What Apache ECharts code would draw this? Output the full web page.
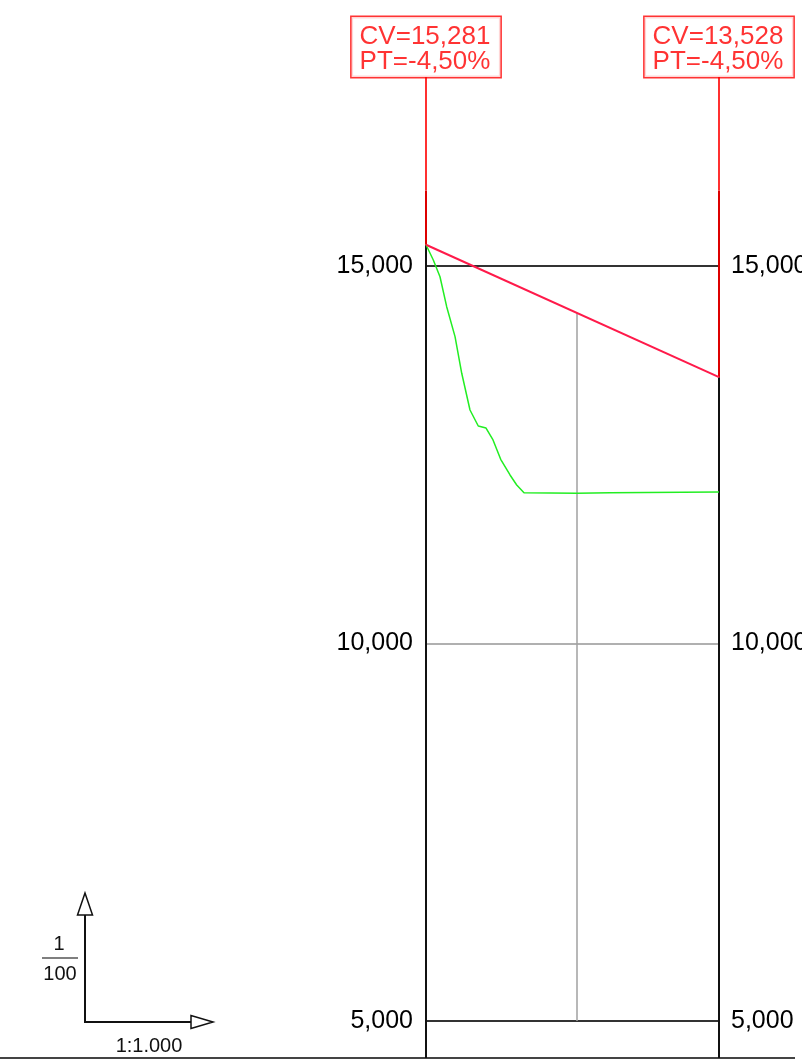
<!DOCTYPE html>
<html>
<head>
<meta charset="utf-8">
<script src="https://cdn.jsdelivr.net/npm/echarts@6/dist/echarts.min.js"></script>
<style>
html,body{margin:0;padding:0;background:#fff;}
#chart{width:802px;height:1060px;}
</style>
</head>
<body>
<div id="chart"></div>
<script>
// ---- data ----
const pviX = [0, 38.956];               // chainage of vertical points (m)
const pviZ = [15.281, 13.528];          // design elevations (CV)
const pviGrade = [-4.50, -4.50];        // grades (PT, %)
const stationX = [20];                  // intermediate station
const stationZ = [14.381];              // design elevation at the station
const groundX = [0, 0.97, 1.86, 2.75, 3.86, 4.75, 5.85, 6.95, 7.98, 8.87, 9.93, 11.17, 12.06, 13.03, 20.04, 24.46, 38.956];
const groundZ = [15.281, 15.079, 14.858, 14.461, 14.064, 13.579, 13.093, 12.881, 12.854, 12.705, 12.440, 12.232, 12.099, 11.997, 11.989, 11.997, 12.007];
const yTicks = [5, 10, 15];
const baseZ = 4.51;      // bottom reference line level
const redSplitZ = 16.0;  // change of red tone on vertical leader
const labelZ = 17.503;   // level of the label boxes

const fmt = (v, d) => v.toFixed(d).replace('.', ',');
const FONT = "'Liberation Sans', Arial, sans-serif";

const chart = echarts.init(document.getElementById('chart'), null, {renderer: 'canvas'});

const vertLines = [];
pviX.forEach((x, i) => {
  vertLines.push({coords: [[x, baseZ], [x, pviZ[i]]], lineStyle: {color: '#111', width: 2, opacity: 1}});
  vertLines.push({coords: [[x, pviZ[i]], [x, redSplitZ]], lineStyle: {color: '#dd0000', width: 2, opacity: 1}});
  vertLines.push({coords: [[x, redSplitZ], [x, labelZ]], lineStyle: {color: '#ff3030', width: 2, opacity: 1}});
});
stationX.forEach((x, i) => {
  vertLines.push({coords: [[x, yTicks[0]], [x, stationZ[i]]], lineStyle: {color: '#a0a0a0', width: 1.5, opacity: 1}});
});

const labelData = pviX.map((x, i) => ({
  value: [x, labelZ],
  label: {formatter: 'CV=' + fmt(pviZ[i], 3) + '\nPT=' + fmt(pviGrade[i], 2) + '%'}
}));

const option = {
  backgroundColor: '#fff',
  animation: false,
  grid: {left: 426, right: 83, top: 266, bottom: 39, containLabel: false, outerBoundsMode: 'none'},
  xAxis: {type: 'value', min: pviX[0], max: pviX[pviX.length - 1], show: false},
  yAxis: [
    {
      type: 'value', min: yTicks[0], max: yTicks[yTicks.length - 1], interval: 5, position: 'left',
      axisLine: {show: false}, axisTick: {show: false},
      axisLabel: {fontSize: 25, color: '#000', fontFamily: FONT, margin: 13, padding: [4, 0, 0, 0], formatter: v => fmt(v / 1, 3)},
      splitLine: {show: true, lineStyle: {color: ['#333', '#b0b0b0', '#333'], width: 2}}
    },
    {
      type: 'value', min: yTicks[0], max: yTicks[yTicks.length - 1], interval: 5, position: 'right',
      axisLine: {show: false}, axisTick: {show: false},
      axisLabel: {fontSize: 25, color: '#000', fontFamily: FONT, margin: 12, padding: [4, 0, 0, 0], formatter: v => fmt(v / 1, 3)},
      splitLine: {show: false}
    }
  ],
  series: [
    {
      type: 'lines', coordinateSystem: 'cartesian2d', polyline: false, clip: false, silent: true,
      lineStyle: {opacity: 1},
      data: vertLines, z: 2
    },
    {
      type: 'line', name: 'ground', symbol: 'none', clip: false, z: 3,
      lineStyle: {color: '#22ee22', width: 1.5},
      data: groundX.map((x, i) => [x, groundZ[i]])
    },
    {
      type: 'line', name: 'grade', symbol: 'none', clip: false, z: 4,
      lineStyle: {color: '#ff1a4a', width: 2},
      data: pviX.map((x, i) => [x, pviZ[i]])
    },
    {
      type: 'scatter', symbolSize: 0, clip: false, z: 5,
      label: {
        show: true, position: 'top', distance: 0,
        fontSize: 26, lineHeight: 25, color: '#ff0000', fontFamily: FONT,
        backgroundColor: '#fff', borderColor: '#ff0000', borderWidth: 1.5,
        padding: [7, 10, 3, 8], align: 'center'
      },
      data: labelData
    }
  ],
  graphic: [
    {type: 'line', shape: {x1: 0, y1: 1058, x2: 795, y2: 1058}, style: {stroke: '#444', lineWidth: 2}},
    // scale symbol
    {type: 'polyline', shape: {points: [[85, 915], [85, 1022], [191, 1022]]}, style: {stroke: '#111', lineWidth: 2, fill: null}},
    {type: 'polygon', shape: {points: [[85, 893], [77.5, 915], [92.5, 915]]}, style: {stroke: '#111', lineWidth: 1.5, fill: '#fff'}},
    {type: 'polygon', shape: {points: [[213, 1022], [191, 1015.5], [191, 1028.5]]}, style: {stroke: '#111', lineWidth: 1.5, fill: '#fff'}},
    {type: 'line', shape: {x1: 42, y1: 958, x2: 78, y2: 958}, style: {stroke: '#555', lineWidth: 1.5}},
    {type: 'text', x: 59, y: 944, style: {text: '1', fontSize: 20, fontFamily: FONT, fill: '#111', align: 'center', verticalAlign: 'middle'}},
    {type: 'text', x: 60, y: 974, style: {text: '100', fontSize: 20, fontFamily: FONT, fill: '#111', align: 'center', verticalAlign: 'middle'}},
    {type: 'text', x: 149, y: 1046, style: {text: '1:1.000', fontSize: 20, fontFamily: FONT, fill: '#111', align: 'center', verticalAlign: 'middle'}}
  ]
};
chart.setOption(option);
</script>
</body>
</html>
